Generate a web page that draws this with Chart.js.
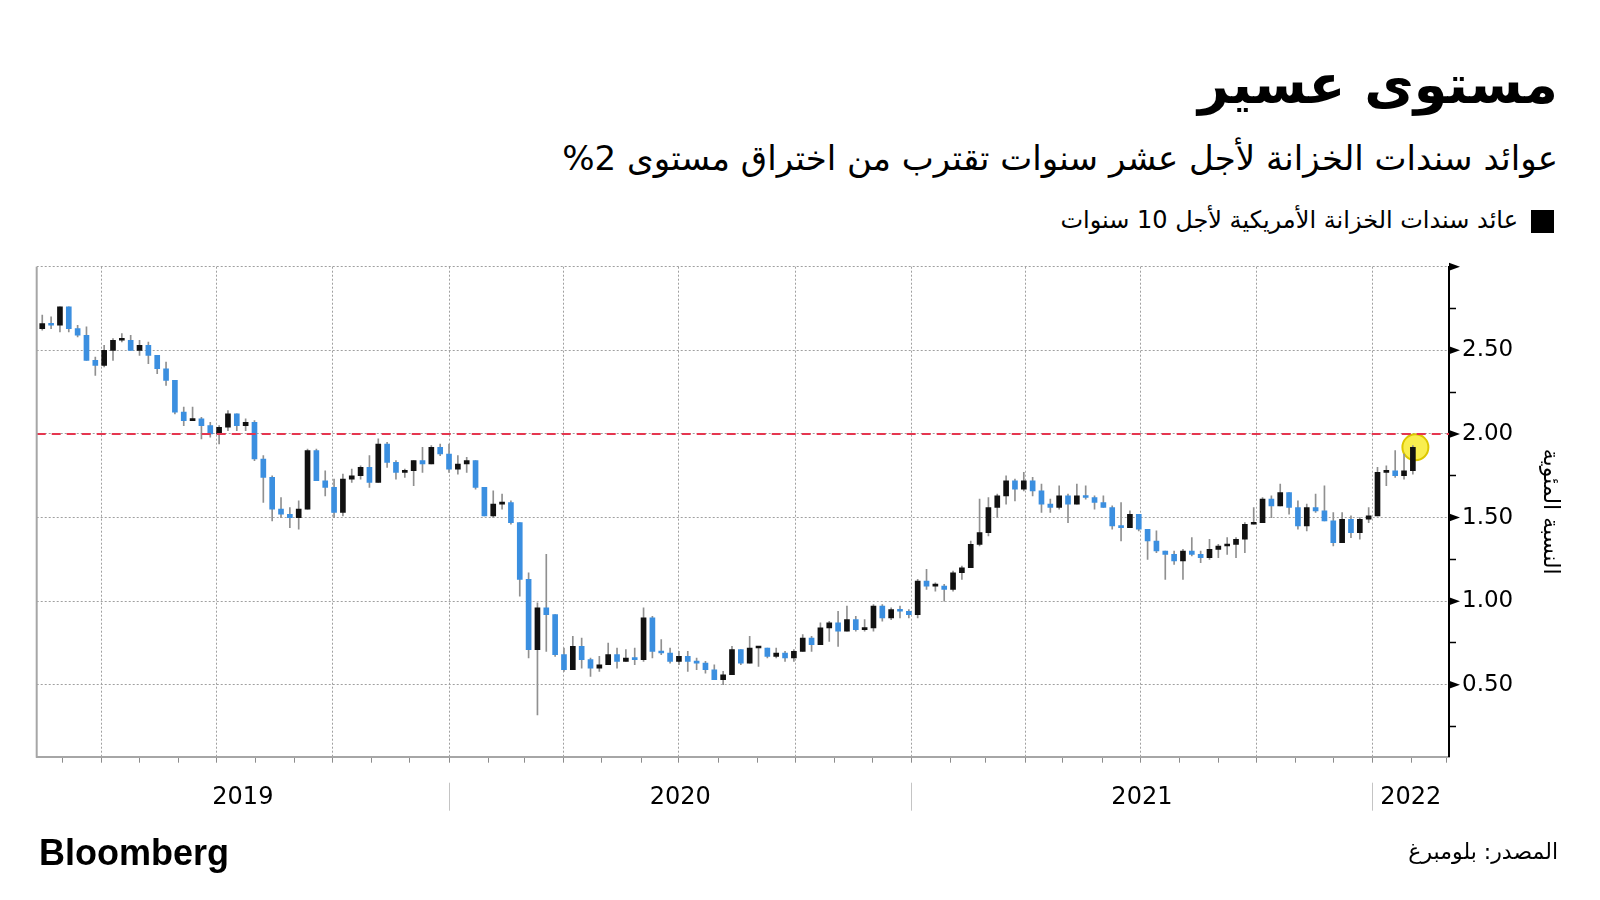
<!DOCTYPE html>
<html lang="ar">
<head>
<meta charset="UTF-8" />
<title>مستوى عسير</title>
<script src="https://cdn.jsdelivr.net/npm/chart.js"></script>
<style>
  body {
    margin: 0;
    width: 1600px;
    height: 900px;
    position: relative;
    overflow: hidden;
    background: #fff;
    color: #000;
    font-family: 'DejaVu Sans', sans-serif;
  }
  .rtl {
    position: absolute;
    right: 42px;
    direction: rtl;
    white-space: nowrap;
    line-height: 1;
  }
  #title { top: 58px; font-size: 54px; font-weight: bold; }
  #subtitle { top: 141px; font-size: 34px; }
  #legend { top: 208px; right: 82px; font-size: 24px; }
  #legendBox { position: absolute; left: 1531px; top: 210px; width: 23px; height: 23px; background: #000; }
  #source { top: 841px; font-size: 22px; }
  #brand {
    position: absolute; left: 39px; top: 835px;
    font: bold 36px 'Liberation Sans', sans-serif; line-height: 1;
  }
  #chartBox { position: absolute; left: 0; top: 240px; width: 1600px; height: 600px; }
</style>
</head>
<body>
  <div id="title" class="rtl">مستوى عسير</div>
  <div id="subtitle" class="rtl">عوائد سندات الخزانة لأجل عشر سنوات تقترب من اختراق مستوى 2%</div>
  <div id="legendBox"></div>
  <div id="legend" class="rtl">عائد سندات الخزانة الأمريكية لأجل 10 سنوات</div>

  <div id="chartBox"><canvas id="chart"></canvas></div>

  <div id="brand">Bloomberg</div>
  <div id="source" class="rtl">المصدر: بلومبرغ</div>

<script>
// weekly candles, first one is the week ending 15 Feb 2019 (plotted mid-week)
const firstWeekMid = [2019, 1, 13];

const opens = [
  2.63, 2.66, 2.65, 2.76, 2.63, 2.59, 2.44, 2.41, 2.50, 2.56, 2.56, 2.50, 2.53, 2.47, 2.39, 2.32,
  2.13, 2.08, 2.09, 2.05, 2.00, 2.04, 2.12, 2.05, 2.07, 1.85, 1.74, 1.55, 1.52, 1.50, 1.55, 1.90,
  1.72, 1.68, 1.53, 1.73, 1.75, 1.80, 1.71, 1.94, 1.83, 1.77, 1.78, 1.84, 1.82, 1.92,
  1.88, 1.79, 1.82, 1.84, 1.68, 1.51, 1.58, 1.59, 1.47, 1.13, 0.71, 0.96, 0.92, 0.68, 0.59, 0.73,
  0.65, 0.60, 0.62, 0.68, 0.64, 0.66, 0.65, 0.90, 0.70, 0.69, 0.64, 0.67, 0.64, 0.63, 0.59, 0.53,
  0.56, 0.71, 0.63, 0.72, 0.72, 0.67, 0.69, 0.66, 0.70, 0.78, 0.74, 0.84, 0.87, 0.82, 0.89, 0.83,
  0.84, 0.97, 0.90, 0.95, 0.94,
  0.92, 1.12, 1.09, 1.09, 1.07, 1.17, 1.20, 1.34, 1.41, 1.56, 1.63, 1.72, 1.67, 1.72, 1.66, 1.58,
  1.56, 1.63, 1.58, 1.63, 1.62, 1.59, 1.56, 1.45, 1.44, 1.52, 1.43, 1.36, 1.30, 1.28, 1.24, 1.30,
  1.28, 1.26, 1.31, 1.33, 1.34, 1.37, 1.46, 1.47, 1.61, 1.57, 1.65, 1.56, 1.45, 1.56, 1.54, 1.48,
  1.35, 1.49, 1.41, 1.49,
  1.51, 1.77, 1.78, 1.75, 1.78
];
const highs = [
  2.71, 2.70, 2.76, 2.76, 2.65, 2.64, 2.46, 2.53, 2.57, 2.60, 2.59, 2.56, 2.55, 2.47, 2.43, 2.32,
  2.16, 2.16, 2.10, 2.07, 2.05, 2.14, 2.12, 2.09, 2.08, 1.87, 1.75, 1.62, 1.56, 1.60, 1.91, 1.91,
  1.78, 1.73, 1.76, 1.79, 1.81, 1.87, 1.97, 1.95, 1.84, 1.79, 1.84, 1.92, 1.93, 1.94,
  1.94, 1.87, 1.86, 1.84, 1.68, 1.66, 1.64, 1.60, 1.47, 1.17, 0.99, 1.28, 0.92, 0.72, 0.79, 0.78,
  0.66, 0.67, 0.75, 0.72, 0.71, 0.72, 0.96, 0.91, 0.77, 0.72, 0.70, 0.70, 0.66, 0.64, 0.62, 0.58,
  0.73, 0.71, 0.79, 0.72, 0.72, 0.72, 0.70, 0.71, 0.80, 0.79, 0.87, 0.88, 0.94, 0.97, 0.91, 0.89,
  0.98, 0.98, 0.96, 0.97, 0.95,
  1.13, 1.19, 1.11, 1.10, 1.18, 1.21, 1.36, 1.61, 1.62, 1.64, 1.75, 1.73, 1.77, 1.74, 1.70, 1.61,
  1.69, 1.64, 1.70, 1.69, 1.63, 1.63, 1.57, 1.59, 1.54, 1.52, 1.43, 1.42, 1.30, 1.30, 1.31, 1.38,
  1.30, 1.37, 1.34, 1.38, 1.38, 1.47, 1.56, 1.62, 1.63, 1.70, 1.65, 1.60, 1.58, 1.64, 1.69, 1.53,
  1.53, 1.51, 1.50, 1.56,
  1.80, 1.81, 1.90, 1.88, 1.93
];
const lows = [
  2.62, 2.63, 2.61, 2.61, 2.58, 2.44, 2.35, 2.40, 2.44, 2.55, 2.50, 2.47, 2.42, 2.36, 2.29, 2.12,
  2.05, 2.08, 1.97, 1.98, 1.94, 2.02, 2.02, 2.02, 1.84, 1.59, 1.48, 1.50, 1.44, 1.43, 1.55, 1.72,
  1.63, 1.50, 1.51, 1.71, 1.73, 1.68, 1.71, 1.80, 1.73, 1.74, 1.69, 1.77, 1.82, 1.87,
  1.77, 1.76, 1.77, 1.67, 1.51, 1.50, 1.55, 1.46, 1.03, 0.66, 0.32, 0.70, 0.67, 0.58, 0.59, 0.60,
  0.55, 0.58, 0.62, 0.60, 0.64, 0.62, 0.64, 0.66, 0.68, 0.63, 0.62, 0.58, 0.59, 0.57, 0.53, 0.50,
  0.56, 0.62, 0.63, 0.61, 0.66, 0.66, 0.64, 0.64, 0.70, 0.70, 0.74, 0.76, 0.73, 0.82, 0.82, 0.82,
  0.82, 0.88, 0.89, 0.90, 0.90,
  0.90, 1.07, 1.06, 1.00, 1.06, 1.13, 1.20, 1.33, 1.39, 1.50, 1.58, 1.60, 1.66, 1.63, 1.53, 1.53,
  1.55, 1.47, 1.58, 1.61, 1.55, 1.56, 1.43, 1.36, 1.44, 1.42, 1.25, 1.29, 1.13, 1.22, 1.13, 1.27,
  1.23, 1.25, 1.26, 1.28, 1.26, 1.29, 1.46, 1.47, 1.50, 1.57, 1.52, 1.43, 1.42, 1.53, 1.48, 1.33,
  1.35, 1.38, 1.37, 1.47,
  1.51, 1.69, 1.74, 1.73, 1.76
];
const closes = [
  2.66, 2.65, 2.76, 2.63, 2.59, 2.44, 2.41, 2.50, 2.56, 2.56, 2.50, 2.53, 2.47, 2.39, 2.32, 2.13,
  2.08, 2.09, 2.05, 2.00, 2.04, 2.12, 2.05, 2.07, 1.85, 1.74, 1.55, 1.52, 1.50, 1.55, 1.90, 1.72,
  1.68, 1.53, 1.73, 1.75, 1.80, 1.71, 1.94, 1.83, 1.77, 1.78, 1.84, 1.82, 1.92, 1.88,
  1.79, 1.82, 1.84, 1.68, 1.51, 1.58, 1.59, 1.47, 1.13, 0.71, 0.96, 0.92, 0.68, 0.59, 0.73, 0.65,
  0.60, 0.62, 0.68, 0.64, 0.66, 0.65, 0.90, 0.70, 0.69, 0.64, 0.67, 0.64, 0.63, 0.59, 0.53, 0.56,
  0.71, 0.63, 0.72, 0.72, 0.67, 0.69, 0.66, 0.70, 0.78, 0.74, 0.84, 0.87, 0.82, 0.89, 0.83, 0.84,
  0.97, 0.90, 0.95, 0.94, 0.92,
  1.12, 1.09, 1.09, 1.07, 1.17, 1.20, 1.34, 1.41, 1.56, 1.63, 1.72, 1.67, 1.72, 1.66, 1.58, 1.56,
  1.63, 1.58, 1.63, 1.62, 1.59, 1.56, 1.45, 1.44, 1.52, 1.43, 1.36, 1.30, 1.28, 1.24, 1.30, 1.28,
  1.26, 1.31, 1.33, 1.34, 1.37, 1.46, 1.47, 1.61, 1.57, 1.65, 1.56, 1.45, 1.56, 1.54, 1.48, 1.35,
  1.49, 1.41, 1.49, 1.51,
  1.77, 1.78, 1.75, 1.78, 1.92
];

const yearLabels = ['2019', '2020', '2021', '2022'];
const yTicks = [0.25, 0.5, 0.75, 1.0, 1.25, 1.5, 1.75, 2.0, 2.25, 2.5, 2.75, 3.0];
const levelLine = 2.0;
const lastDate = [2022, 1, 4];
const lastHigh = 1.92;

const UP = '#111111';
const DOWN = '#3b8fe0';

// days counted from 1 Jan 2019
function dayNum(y, m, d) {
  return (Date.UTC(y, m, d) - Date.UTC(2019, 0, 1)) / 864e5;
}

const X_MIN = 38.6;   // ~8 Feb 2019
const X_MAX = 1156.6; // ~2 Mar 2022

const startDay = dayNum(...firstWeekMid);
const weekX = closes.map((c, i) => startDay + 7 * i);

const monthStarts = [];
const quarterStarts = new Set();
for (let y = 2019; y <= 2022; y++) {
  for (let m = 0; m < 12; m++) {
    const d = dayNum(y, m, 1);
    if (d < X_MIN || d > X_MAX) continue;
    monthStarts.push(d);
    if (m % 3 === 0) quarterStarts.add(d);
  }
}
const yearStarts = [dayNum(2020, 0, 1), dayNum(2021, 0, 1), dayNum(2022, 0, 1)];

const isMajor = v => Math.abs(v * 2 - Math.round(v * 2)) < 1e-9;

// frame bits: left border, tick arrows, year separators and labels
const frame = {
  id: 'frame',
  afterDraw(chart) {
    const { ctx, chartArea: a, scales: { x, y } } = chart;
    ctx.save();
    ctx.strokeStyle = '#a6a6a6';
    ctx.lineWidth = 2;
    ctx.beginPath();
    ctx.moveTo(a.left, a.top);
    ctx.lineTo(a.left, a.bottom + 1);
    ctx.stroke();

    ctx.fillStyle = '#000';
    y.ticks.forEach(t => {
      if (!isMajor(t.value)) return;
      const py = y.getPixelForValue(t.value);
      ctx.beginPath();
      ctx.moveTo(a.right, py - 4);
      ctx.lineTo(a.right + 11, py);
      ctx.lineTo(a.right, py + 4);
      ctx.closePath();
      ctx.fill();
    });

    ctx.strokeStyle = '#c4c4c4';
    ctx.lineWidth = 1;
    yearStarts.forEach(d => {
      const px = Math.round(x.getPixelForValue(d)) + 0.5;
      ctx.beginPath();
      ctx.moveTo(px, a.bottom + 26);
      ctx.lineTo(px, a.bottom + 54);
      ctx.stroke();
    });

    const bounds = [X_MIN, ...yearStarts, X_MAX];
    ctx.font = '24px "DejaVu Sans"';
    ctx.textAlign = 'center';
    ctx.textBaseline = 'middle';
    ctx.fillStyle = '#000';
    yearLabels.forEach((lab, i) => {
      const mid = (x.getPixelForValue(bounds[i]) + x.getPixelForValue(bounds[i + 1])) / 2;
      ctx.fillText(lab, mid, a.bottom + 41);
    });
    ctx.restore();
  }
};

new Chart(document.getElementById('chart'), {
  type: 'bar',
  data: {
    datasets: [
      {
        type: 'line',
        data: [{ x: X_MIN, y: levelLine }, { x: X_MAX, y: levelLine }],
        borderColor: '#e5364f',
        borderWidth: 2,
        borderDash: [9, 6],
        pointRadius: 0,
        order: 0
      },
      {
        data: weekX.map((d, i) => ({ x: d, y: [opens[i], closes[i]] })),
        backgroundColor: closes.map((c, i) => (c >= opens[i] ? UP : DOWN)),
        barThickness: 5,
        minBarLength: 2,
        grouped: false,
        clip: 0,
        order: 1
      },
      {
        data: weekX.map((d, i) => ({ x: d, y: [lows[i], highs[i]] })),
        backgroundColor: '#909090',
        barThickness: 1,
        grouped: false,
        clip: 0,
        order: 2
      },
      {
        type: 'line',
        showLine: false,
        data: [{ x: dayNum(...lastDate), y: lastHigh }],
        pointRadius: 13,
        pointBackgroundColor: 'rgba(248, 236, 60, 0.9)',
        pointBorderColor: '#dcc700',
        pointBorderWidth: 2,
        order: 3
      }
    ]
  },
  options: {
    responsive: true,
    maintainAspectRatio: false,
    animation: false,
    layout: { padding: { left: 36.7, top: 26.7, right: 37, bottom: 77.3 } },
    plugins: { legend: { display: false }, tooltip: { enabled: false } },
    scales: {
      x: {
        type: 'linear',
        min: X_MIN,
        max: X_MAX,
        offset: false,
        afterBuildTicks: s => { s.ticks = monthStarts.map(v => ({ value: v })); },
        afterFit: s => { s.height = 6; },
        ticks: { display: false },
        grid: {
          offset: false,
          color: c => (c.tick && quarterStarts.has(c.tick.value) ? '#a0a0a0' : 'rgba(0,0,0,0)'),
          tickColor: '#8c8c8c',
          tickLength: 6,
          tickWidth: 1,
          lineWidth: 1
        },
        border: { color: '#a6a6a6', width: 2, dash: [2, 2] }
      },
      y: {
        position: 'right',
        min: 0.07,
        max: 3.0,
        afterBuildTicks: s => { s.ticks = yTicks.map(v => ({ value: v })); },
        afterFit: s => { s.width = 114; },
        ticks: {
          callback: v => (isMajor(v) && v < 3 ? v.toFixed(2) : ''),
          font: { family: 'DejaVu Sans', size: 23 },
          color: '#000',
          padding: 6,
          autoSkip: false
        },
        grid: {
          color: c => (c.tick && isMajor(c.tick.value) ? '#a0a0a0' : 'rgba(0,0,0,0)'),
          tickColor: c => (c.tick && isMajor(c.tick.value) ? 'rgba(0,0,0,0)' : '#000'),
          tickLength: 7,
          tickWidth: 1.5,
          lineWidth: 1
        },
        border: { color: '#000', width: 2, dash: [2, 2] },
        title: {
          display: true,
          text: 'النسبة المئوية',
          font: { family: 'DejaVu Sans', size: 22 },
          color: '#000',
          padding: { top: 0, bottom: 24 }
        }
      }
    }
  },
  plugins: [frame]
});
</script>
</body>
</html>
